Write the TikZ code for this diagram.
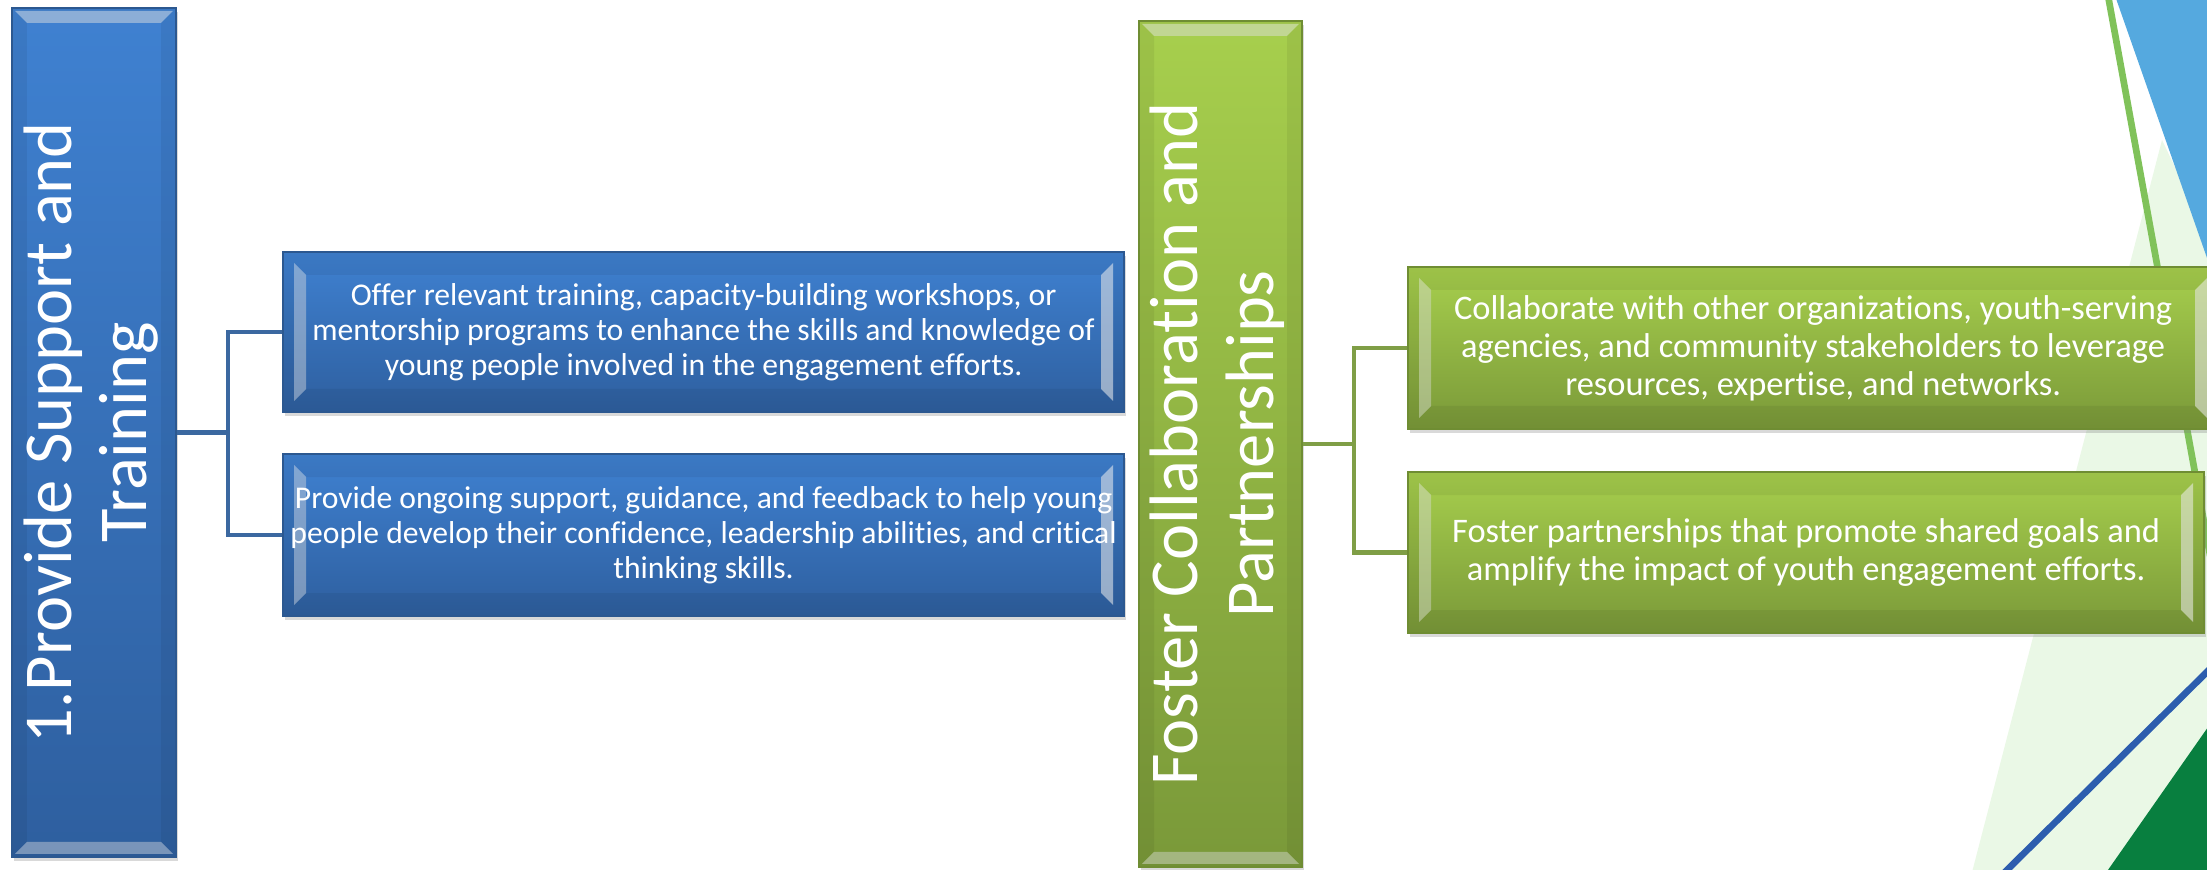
\documentclass[tikz,border=0pt]{standalone}
\usepackage{fontspec}
\setmainfont{Carlito}[Ligatures=NoCommon]
\usetikzlibrary{positioning,calc,shadows}

\definecolor{boxblue}{HTML}{3F81D1}
\definecolor{boxbluedark}{HTML}{2E5F9F}
\definecolor{edgeblue}{HTML}{2C5890}
\definecolor{linkblue}{HTML}{3B68A0}
\definecolor{boxgreen}{HTML}{A7CF4D}
\definecolor{boxgreendark}{HTML}{7A9939}
\definecolor{edgegreen}{HTML}{6F8D33}
\definecolor{linkgreen}{HTML}{7F9E46}
\definecolor{palegreen}{HTML}{EAF8E6}
\definecolor{skyblue}{HTML}{55A9DF}
\definecolor{leafgreen}{HTML}{80C25A}
\definecolor{navyline}{HTML}{2C5DAE}
\definecolor{forestgreen}{HTML}{087F3F}

\begin{document}
\begin{tikzpicture}[
    % #1..#4 = opacity of left, right, top, bottom highlight; #5/#6 = outer/inner inset
    bevel/.style n args={6}{path picture={
        \path (path picture bounding box.north west) coordinate (pnw)
              (path picture bounding box.north east) coordinate (pne)
              (path picture bounding box.south west) coordinate (psw)
              (path picture bounding box.south east) coordinate (pse);
        \fill[white,opacity=#1] ($(pnw)+(#5,-#5)$) -- ($(pnw)+(#6,-#6)$) -- ($(psw)+(#6,#6)$) -- ($(psw)+(#5,#5)$) -- cycle;
        \fill[white,opacity=#2] ($(pne)+(-#5,-#5)$) -- ($(pne)+(-#6,-#6)$) -- ($(pse)+(-#6,#6)$) -- ($(pse)+(-#5,#5)$) -- cycle;
        \fill[white,opacity=#3] ($(pnw)+(#5,-#5)$) -- ($(pne)+(-#5,-#5)$) -- ($(pne)+(-#6,-#6)$) -- ($(pnw)+(#6,-#6)$) -- cycle;
        \fill[white,opacity=#4] ($(psw)+(#5,#5)$) -- ($(pse)+(-#5,#5)$) -- ($(pse)+(-#6,#6)$) -- ($(psw)+(#6,#6)$) -- cycle;
        \fill[black,opacity=0.06] (pnw) -- (pne) -- (pse) -- (psw) -- cycle
              ($(pnw)+(#6,-#6)$) -- ($(psw)+(#6,#6)$) -- ($(pse)+(-#6,#6)$) -- ($(pne)+(-#6,-#6)$) -- cycle;
    }},
    boxbase/.style={rectangle, inner sep=0pt, text=white, align=center, line width=0.6pt,
        drop shadow={shadow xshift=0.02cm, shadow yshift=-0.04cm, opacity=0.3}},
    bluebox/.style={boxbase, draw=edgeblue, top color=boxblue, bottom color=boxbluedark},
    greenbox/.style={boxbase, draw=edgegreen, top color=boxgreen, bottom color=boxgreendark},
    mainbox/.style={bevel={0}{0}{0.45}{0.4}{0.03}{0.15}, font=\fontsize{19.5}{21.5}\selectfont},
    childbox/.style={bevel={0.4}{0.55}{0}{0}{0.11}{0.23}},
    bluechild/.style={bluebox, childbox, minimum width=8.41cm, font=\fontsize{9}{9.9}\selectfont},
    greenchild/.style={greenbox, childbox, font=\fontsize{9.8}{10.8}\selectfont},
    bluelink/.style={draw=linkblue, line width=1.2pt},
    greenlink/.style={draw=linkgreen, line width=1.2pt}
]

\useasboundingbox (0,0) rectangle (22.07,8.7);

% corner decoration
\fill[palegreen] (21.62,7.30) -- (19.70,-0.1) -- (22.2,-0.1) -- (22.2,6.09) -- cycle;
\fill[skyblue] (21.13,8.8) -- (22.2,8.8) -- (22.2,5.75) -- cycle;
\draw[leafgreen, line width=1.9pt] (21.07,8.8) -- (22.2,2.6);
\draw[navyline, line width=1.9pt] (19.97,-0.1) -- (22.2,2.11);
\fill[forestgreen] (21.01,-0.1) -- (22.2,1.6) -- (22.2,-0.1) -- cycle;

% left block
\node[bluebox, mainbox, minimum width=1.64cm, minimum height=8.49cm] (support) at (0.94,4.375)
    {\rotatebox{90}{\begin{tabular}{@{}c@{}}1.Provide Support and\\Training\end{tabular}}};
\node[bluechild, minimum height=1.60cm, right=1.05cm of support, yshift=1.005cm] (training)
    {Offer relevant training, capacity-building workshops, or\\mentorship programs to enhance the skills and knowledge of\\young people involved in the engagement efforts.};
\node[bluechild, minimum height=1.62cm, below=0.40cm of training] (guidance)
    {Provide ongoing support, guidance, and feedback to help young\\people develop their confidence, leadership abilities, and critical\\thinking skills.};

% right block
\node[greenbox, mainbox, minimum width=1.63cm, minimum height=8.46cm] (collab) at (12.205,4.26)
    {\rotatebox{90}{\begin{tabular}{@{}c@{}}Foster Collaboration and\\Partnerships\end{tabular}}};
\node[greenchild, minimum width=8.10cm, minimum height=1.62cm, right=1.04cm of collab, yshift=0.96cm] (orgs)
    {Collaborate with other organizations, youth-serving\\agencies, and community stakeholders to leverage\\resources, expertise, and networks.};
\node[greenchild, minimum width=7.96cm, minimum height=1.61cm, below=0.41cm of orgs.south west, anchor=north west] (goals)
    {Foster partnerships that promote shared goals and\\amplify the impact of youth engagement efforts.};

% connectors
\coordinate (bfork) at ($(support.east)+(0.51,0)$);
\draw[bluelink] (support.east) -- (bfork);
\draw[bluelink] (bfork) |- (training.west);
\draw[bluelink] (bfork) |- (guidance.west);

\coordinate (gfork) at ($(collab.east)+(0.51,0)$);
\draw[greenlink] (collab.east) -- (gfork);
\draw[greenlink] (gfork) |- (orgs.west);
\draw[greenlink] (gfork) |- (goals.west);

\end{tikzpicture}
\end{document}
